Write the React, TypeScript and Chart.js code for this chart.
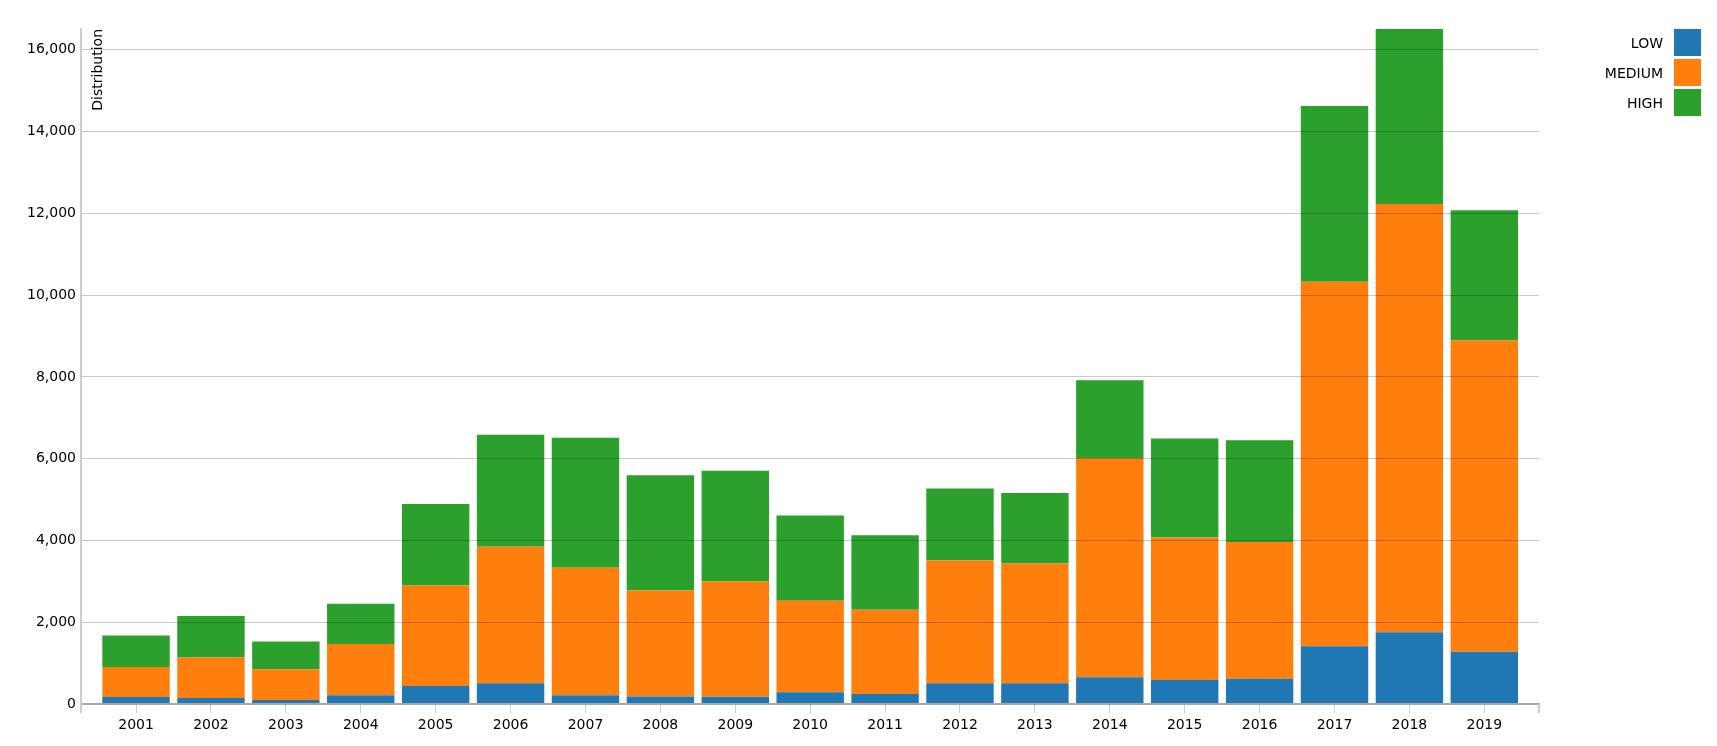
import React, { useEffect, useRef } from 'react';
import { Chart, registerables } from 'chart.js';

Chart.register(...registerables);

const years = ['2001', '2002', '2003', '2004', '2005', '2006', '2007', '2008', '2009', '2010', '2011', '2012', '2013', '2014', '2015', '2016', '2017', '2018', '2019'];
const lowValues = [170, 145, 98, 212, 440, 505, 212, 181, 175, 285, 244, 505, 505, 652, 587, 620, 1415, 1755, 1275];
const mediumValues = [733, 995, 749, 1253, 2459, 3339, 3119, 2596, 2821, 2240, 2061, 3004, 2933, 5366, 3482, 3343, 8911, 10473, 7622];
const highValues = [774, 1009, 684, 987, 1995, 2742, 3182, 2815, 2711, 2083, 1822, 1758, 1722, 1900, 2422, 2488, 4297, 4279, 3176];
const seriesNames = ['LOW', 'MEDIUM', 'HIGH'];
const seriesColors = ['#1f77b4', '#ff7f0e', '#2ca02c'];
const yTickStep = 2000;
const yAxisTitle = 'Distribution';

const FONT = '"DejaVu Sans", Verdana, sans-serif';

export default function App() {
  const canvasRef = useRef<HTMLCanvasElement>(null);

  useEffect(() => {
    const canvas = canvasRef.current;
    if (!canvas) return;
    const totals = years.map((_, i) => lowValues[i] + mediumValues[i] + highValues[i]);
    const yMax = Math.max(...totals);
    const xMin = 1 - 0.735;
    const xMax = years.length + 0.73;

    const series = [lowValues, mediumValues, highValues];

    const legendPlugin = {
      id: 'rightLegend',
      afterDraw(chart: any) {
        const ctx = chart.ctx;
        ctx.save();
        ctx.font = '14px ' + FONT;
        ctx.textAlign = 'right';
        ctx.textBaseline = 'middle';
        chart.data.datasets.forEach((ds: any, i: number) => {
          const y = 29 + 30 * i;
          ctx.fillStyle = ds.backgroundColor;
          ctx.fillRect(1674, y, 27, 27);
          ctx.fillStyle = '#000';
          ctx.fillText(ds.label, 1663, y + 15);
        });
        ctx.restore();
      },
    };

    const decorPlugin = {
      id: 'decor',
      afterDraw(chart: any) {
        const ctx = chart.ctx;
        const area = chart.chartArea;
        ctx.save();
        ctx.strokeStyle = '#cccccc';
        ctx.lineWidth = 2;
        ctx.beginPath();
        ctx.moveTo(area.left, area.bottom);
        ctx.lineTo(area.left, area.bottom + 9);
        ctx.moveTo(area.right, area.bottom);
        ctx.lineTo(area.right, area.bottom + 9);
        ctx.stroke();
        ctx.font = '14px ' + FONT;
        ctx.fillStyle = '#000';
        ctx.translate(area.left + 20.5, area.top);
        ctx.rotate(-Math.PI / 2);
        ctx.textAlign = 'right';
        ctx.textBaseline = 'alphabetic';
        ctx.fillText(yAxisTitle, 0, 0);
        ctx.restore();
      },
    };

    const chart = new Chart(canvas, {
      type: 'bar',
      data: {
        datasets: seriesNames.map((name, s) => ({
          label: name,
          data: years.map((_, i) => ({ x: i + 1, y: series[s][i] })),
          backgroundColor: seriesColors[s],
          borderWidth: 0,
          categoryPercentage: 1,
          barPercentage: 0.9,
        })),
      },
      options: {
        responsive: false,
        animation: false,
        devicePixelRatio: 1,
        layout: { padding: { left: 0, top: 29, right: 178, bottom: 0 } },
        plugins: { legend: { display: false }, tooltip: { enabled: false } },
        scales: {
          x: {
            type: 'linear',
            stacked: true,
            min: xMin,
            max: xMax,
            offset: false,
            afterBuildTicks: (scale: any) => {
              scale.ticks = years.map((_, i) => ({ value: i + 1 }));
            },
            afterFit: (scale: any) => {
              scale.height = 42;
            },
            grid: {
              offset: false,
              drawOnChartArea: false,
              drawTicks: true,
              tickLength: 9,
              color: '#cccccc',
              lineWidth: 1,
              z: 1,
            },
            border: { display: true, color: '#a8a8a8', width: 2, z: 2 },
            ticks: {
              autoSkip: false,
              maxRotation: 0,
              padding: 4,
              color: '#000',
              font: { family: FONT, size: 14 },
              callback: (v: any) => {
                const idx = Number(v) - 1;
                return years[idx] ?? '';
              },
            },
          },
          y: {
            type: 'linear',
            stacked: true,
            min: 0,
            max: yMax,
            afterBuildTicks: (scale: any) => {
              const t = [];
              for (let v = 0; v <= yMax; v += yTickStep) t.push({ value: v });
              scale.ticks = t;
            },
            afterFit: (scale: any) => {
              scale.width = 81;
            },
            grid: {
              drawTicks: false,
              color: (ctx: any) => (ctx.tick && ctx.tick.value === 0 ? 'rgba(0,0,0,0)' : 'rgba(0,0,0,0.21)'),
              lineWidth: 1,
              z: 1,
            },
            border: { display: true, color: '#cccccc', width: 2, z: 2 },
            ticks: {
              padding: 5,
              color: '#000',
              font: { family: FONT, size: 14 },
              callback: (v: any) => Number(v).toLocaleString('en-US'),
            },
          },
        },
      } as any,
      plugins: [legendPlugin, decorPlugin],
    });

    return () => chart.destroy();
  }, []);

  return (
    <div style={{ position: 'fixed', left: 0, top: 0, width: 1717, height: 746, background: '#fff' }}>
      <canvas ref={canvasRef} width={1717} height={746} style={{ display: 'block', width: 1717, height: 746 }} />
    </div>
  );
}
